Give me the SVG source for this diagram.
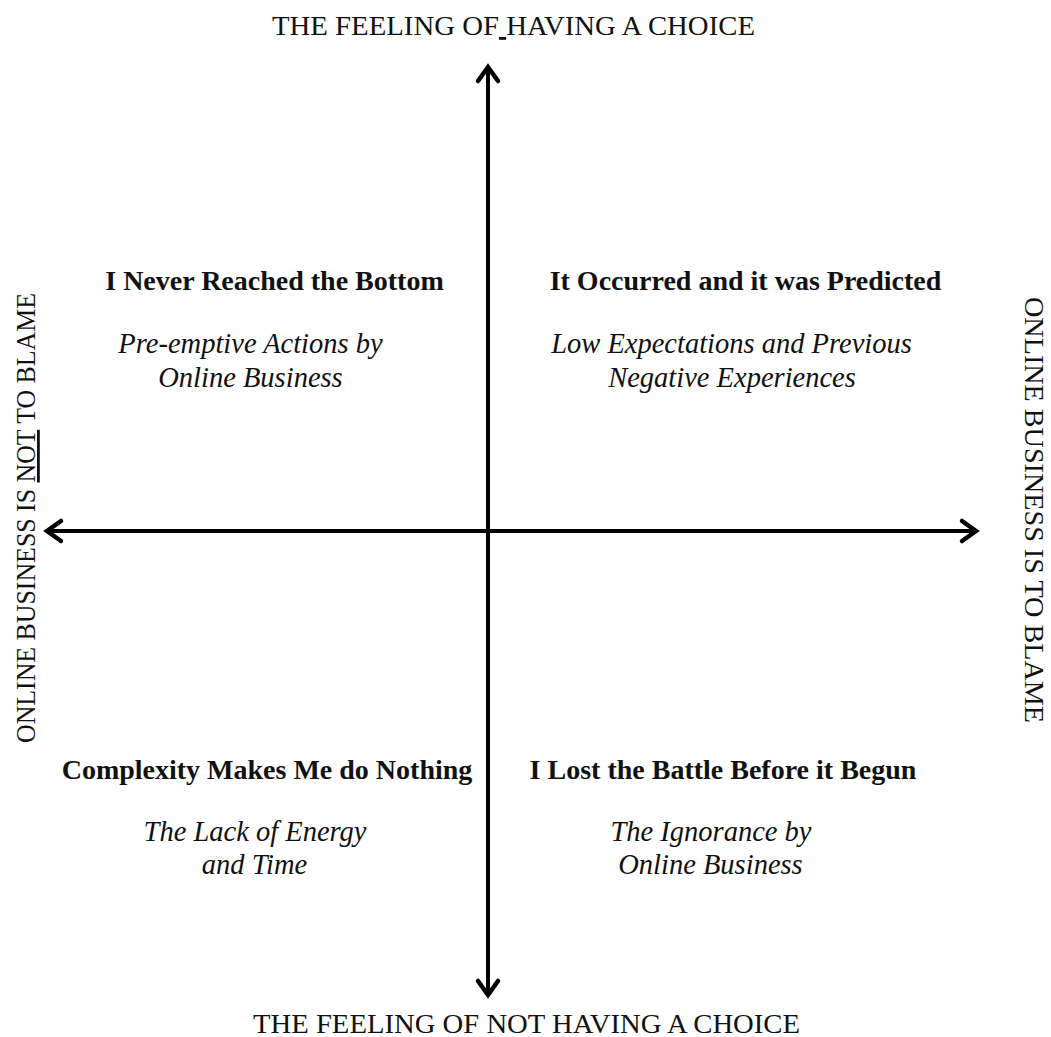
<svg xmlns="http://www.w3.org/2000/svg" width="1051" height="1037" viewBox="0 0 1051 1037">
<style>
text{font-family:"Liberation Serif","Times New Roman",serif;fill:#111;}
.ax{font-size:28px;text-anchor:middle;}
.t{font-size:28px;font-weight:bold;text-anchor:middle;}
.s{font-size:28.5px;font-style:italic;text-anchor:middle;}
.ln{stroke:#000;stroke-width:4;fill:none;}
.hd{stroke:#000;stroke-width:4.5;fill:none;stroke-linecap:round;stroke-linejoin:miter;}
</style>
<rect width="1051" height="1037" fill="#fff"/>
<g id="connectors">
<line class="ln" x1="488" y1="68" x2="488" y2="994"/>
<polyline class="hd" points="478,81 488,67 498,81"/>
<polyline class="hd" points="478,981 488,995 498,981"/>
<line class="ln" x1="47" y1="531" x2="976" y2="531"/>
<polyline class="hd" points="61,521 47,531 61,541"/>
<polyline class="hd" points="962,521 976,531 962,541"/>
</g>
<g id="axis-top"><text class="ax" x="513.5" y="35" textLength="483" lengthAdjust="spacingAndGlyphs">THE FEELING OF<tspan text-decoration="underline"> </tspan>HAVING A CHOICE</text></g>
<g id="axis-bottom"><text class="ax" x="526.5" y="1033" textLength="547" lengthAdjust="spacingAndGlyphs">THE FEELING OF NOT HAVING A CHOICE</text></g>
<g id="axis-left"><text class="ax" transform="translate(35,518) rotate(-90)" textLength="450" lengthAdjust="spacingAndGlyphs">ONLINE BUSINESS IS <tspan text-decoration="underline">NOT</tspan> TO BLAME</text></g>
<g id="axis-right"><text class="ax" transform="translate(1025,510) rotate(90)" textLength="426" lengthAdjust="spacingAndGlyphs">ONLINE BUSINESS IS TO BLAME</text></g>
<g id="q1"><text class="t" x="274.5" y="290">I Never Reached the Bottom</text>
<text class="s" x="250.5" y="353">Pre-emptive Actions by</text><text class="s" x="250.5" y="387">Online Business</text></g>
<g id="q2"><text class="t" x="745.5" y="290">It Occurred and it was Predicted</text>
<text class="s" x="731.5" y="353">Low Expectations and Previous</text><text class="s" x="732" y="387">Negative Experiences</text></g>
<g id="q3"><text class="t" x="267" y="779">Complexity Makes Me do Nothing</text>
<text class="s" x="255" y="841">The Lack of Energy</text><text class="s" x="254.5" y="874">and Time</text></g>
<g id="q4"><text class="t" x="723" y="779">I Lost the Battle Before it Begun</text>
<text class="s" x="711" y="841">The Ignorance by</text><text class="s" x="710.5" y="874">Online Business</text></g>
</svg>
